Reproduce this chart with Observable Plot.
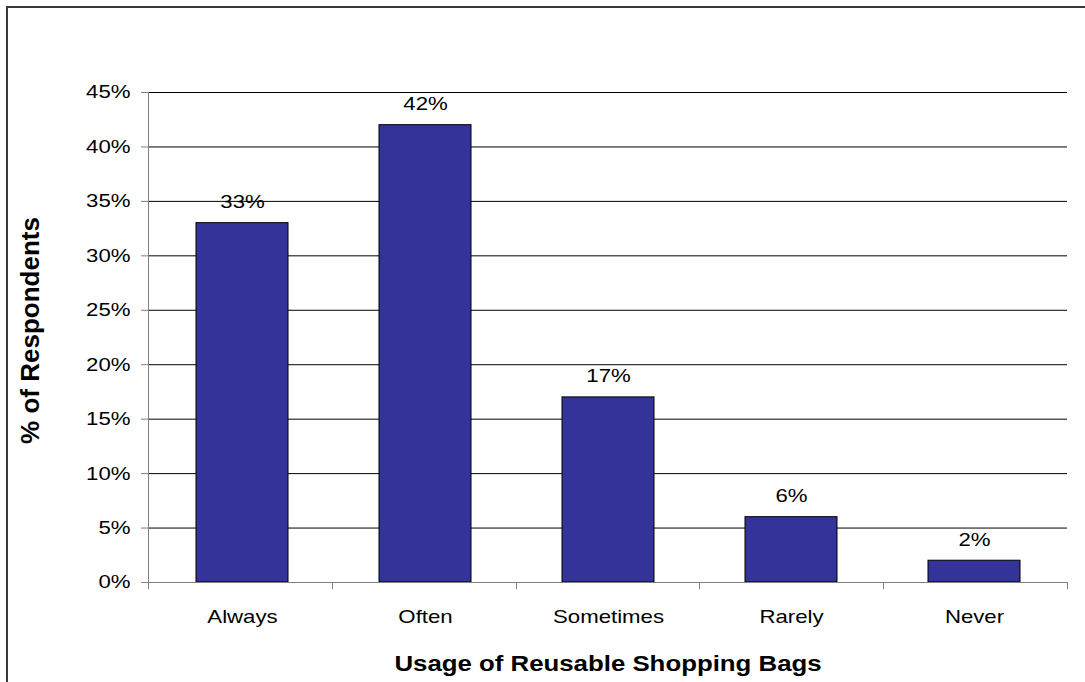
<!DOCTYPE html>
<html>
<head>
<meta charset="utf-8">
<script src="https://cdn.jsdelivr.net/npm/d3@7"></script>
<script src="https://cdn.jsdelivr.net/npm/@observablehq/plot@0.6"></script>
<style>
  html, body { margin: 0; padding: 0; background: #fff; overflow: hidden; }
</style>
</head>
<body>
<div id="chart"></div>
<script>
// Survey answers: how often respondents use reusable shopping bags
const categories = ["Always", "Often", "Sometimes", "Rarely", "Never"];
const shares = [0.33, 0.42, 0.17, 0.06, 0.02];
const yTicks = [0, 0.05, 0.10, 0.15, 0.20, 0.25, 0.30, 0.35, 0.40, 0.45];
const xTitle = "Usage of Reusable Shopping Bags";
const yTitle = "% of Respondents";

const data = categories.map((category, i) => ({category, share: shares[i]}));
const pct = d3.format(".0%");

// Category boundary ticks under the baseline, plus the two axis lines
function boundaryTicks(index, scales, values, dims) {
  const g = d3.create("svg:g");
  const left = dims.marginLeft;
  const right = dims.width - dims.marginRight;
  const bottom = dims.height - dims.marginBottom;
  const step = (right - left) / categories.length;
  d3.range(categories.length + 1).forEach(k => {
    const x = Math.round(left + k * step) + 0.5;
    g.append("line")
      .attr("x1", x).attr("x2", x)
      .attr("y1", bottom).attr("y2", bottom + 7)
      .attr("stroke", "#808080");
  });
  g.append("line")
    .attr("x1", left + 0.5).attr("x2", left + 0.5)
    .attr("y1", dims.marginTop).attr("y2", bottom)
    .attr("stroke", "#808080");
  g.append("line")
    .attr("x1", left).attr("x2", right)
    .attr("y1", bottom + 0.5).attr("y2", bottom + 0.5)
    .attr("stroke", "#808080");
  return g.node();
}

// Outer chart border (runs off the right and bottom edges)
function outerBorder(index, scales, values, dims) {
  return d3.create("svg:path")
    .attr("d", `M7,${dims.height + 5}V7H${dims.width + 5}`)
    .attr("fill", "none")
    .attr("stroke", "#3a3a3a")
    .attr("stroke-width", 2)
    .node();
}

const chart = Plot.plot({
  width: 1085,
  height: 682,
  marginLeft: 148,
  marginRight: 18,
  marginTop: 92,
  marginBottom: 100,
  style: {
    fontFamily: "'Liberation Sans', Arial, sans-serif",
    fontSize: "18.5px",
    color: "#000",
    background: "#fff"
  },
  x: {domain: categories, paddingInner: 0.5, paddingOuter: 0.25, axis: null},
  y: {domain: [0, 0.45], axis: null},
  marks: [
    Plot.ruleY(yTicks.filter(d => d > 0), {stroke: "#000", strokeWidth: 1}),
    Plot.barY(data, {x: "category", y: "share", fill: "#333399", stroke: "#000", strokeWidth: 1}),
    boundaryTicks,
    Plot.axisY({ticks: yTicks, tickFormat: pct, tickSize: 7, tickPadding: 11, stroke: "#808080", label: null}),
    Plot.axisX({tickSize: 0, tickPadding: 27, label: null}),
    Plot.text(data, {x: "category", y: "share", text: d => pct(d.share), dy: -21}),
    Plot.text([xTitle], {frameAnchor: "bottom", lineAnchor: "middle", dy: 81.5, fontWeight: "bold", fontSize: 21.5}),
    Plot.text([yTitle], {frameAnchor: "left", textAnchor: "middle", lineAnchor: "middle", rotate: -90, dx: -118, dy: -7, fontWeight: "bold", fontSize: 26}),
    outerBorder
  ]
});

document.getElementById("chart").appendChild(chart);

// Widen horizontal labels slightly, keeping their anchors
d3.select(chart).selectAll("text").each(function() {
  const t = d3.select(this);
  const tr = (t.attr("transform") || "") + (this.parentNode.getAttribute("transform") || "");
  if (tr.includes("rotate")) return;
  const len = this.getComputedTextLength();
  if (len > 0) t.attr("textLength", len * 1.2).attr("lengthAdjust", "spacingAndGlyphs");
});
</script>
</body>
</html>
